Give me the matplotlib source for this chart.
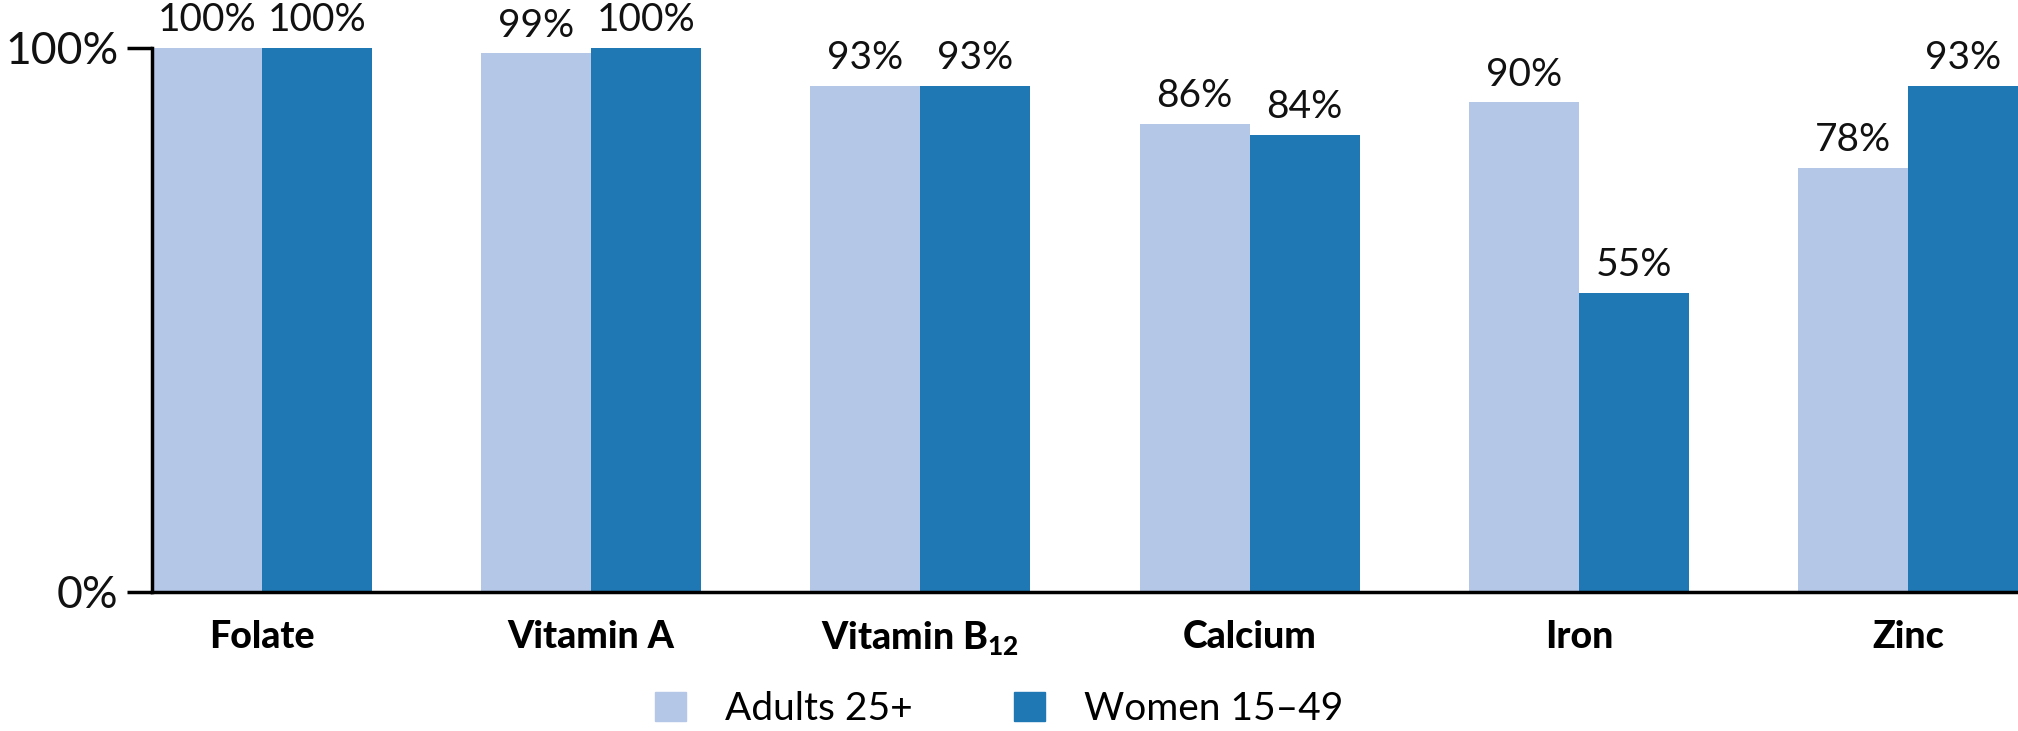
import matplotlib
matplotlib.use("Agg")
import matplotlib.pyplot as plt
import numpy as np
from matplotlib.patches import Patch

nutrients = ["Folate", "Vitamin A", r"Vitamin B$_{\mathbf{12}}$", "Calcium", "Iron", "Zinc"]
adults_25 = [100, 99, 93, 86, 90, 78]
women_15_49 = [100, 100, 93, 84, 55, 93]
series_names = ["Adults 25+", "Women 15\u201349"]
yticks = [0, 100]
ytick_labels = ["0%", "100%"]

light = "#B4C7E7"
dark = "#1F77B4"

plt.rcParams["font.family"] = ["Lato", "DejaVu Sans"]
plt.rcParams["mathtext.fontset"] = "custom"
plt.rcParams["mathtext.rm"] = "Lato"
plt.rcParams["mathtext.bf"] = "Lato:black"

fig = plt.figure(figsize=(20.18, 7.31), dpi=100)
ax = fig.add_axes([152 / 2018, (731 - 592) / 731, 1 - 152 / 2018, (592 - 48) / 731])

x = np.arange(len(nutrients))
w = 0.334
b1 = ax.bar(x - w / 2, adults_25, width=w, color=light)
b2 = ax.bar(x + w / 2, women_15_49, width=w, color=dark)

for bars, vals in ((b1, adults_25), (b2, women_15_49)):
    for rect, v in zip(bars, vals):
        ax.annotate(f"{v}%", (rect.get_x() + rect.get_width() / 2, v),
                    xytext=(0, 7), textcoords="offset points",
                    ha="center", va="bottom", fontsize=28, color="#111111")

ax.set_xlim(-w, len(nutrients) - 1 + w)
ax.set_ylim(0, 100)
ax.set_yticks(yticks)
ax.set_yticklabels(ytick_labels, fontsize=32, color="#111111")
ax.set_xticks(x)
ax.set_xticklabels(nutrients, fontsize=27, fontweight="black")
ax.tick_params(axis="y", length=18, width=2.5, pad=6)
ax.tick_params(axis="x", length=0, pad=20)

for s in ("top", "right"):
    ax.spines[s].set_visible(False)
for s in ("left", "bottom"):
    ax.spines[s].set_linewidth(2.5)

handles = [Patch(color=light), Patch(color=dark)]
fig.legend(handles, series_names, loc="center", bbox_to_anchor=(0.495, 0.030),
           ncol=2, frameon=False, prop={"size": 28},
           handlelength=0.8, handleheight=0.8,
           handletextpad=1.0, columnspacing=2.6)

fig.savefig("out.png", dpi=100)
